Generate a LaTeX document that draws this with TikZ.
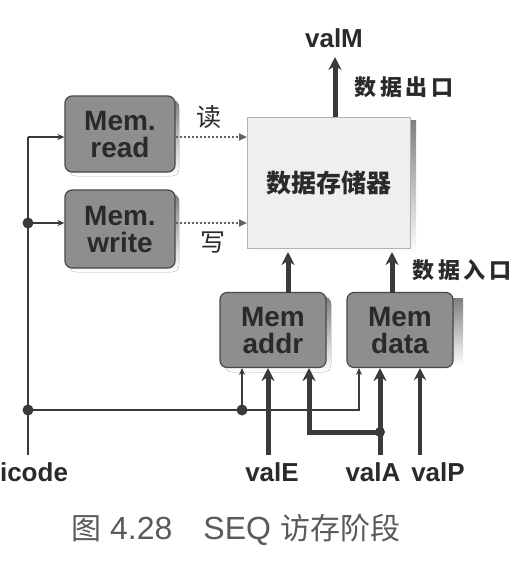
\documentclass[tikz,border=0pt]{standalone}
\usepackage{fontspec}
\setmainfont{Liberation Sans}
\newfontfamily\cjk{Noto Sans CJK SC}
\usetikzlibrary{arrows.meta}
\definecolor{boxfill}{HTML}{8E8E8E}
\definecolor{boxedge}{HTML}{4A4A4A}
\definecolor{shade}{HTML}{555555}
\definecolor{wire}{HTML}{3A3A3A}
\definecolor{txt}{HTML}{2A2A2A}
\definecolor{memfill}{HTML}{EFEFEF}
\definecolor{capc}{HTML}{5A5A5A}
\tikzset{
  ctrlbox/.style={draw=boxedge, line width=1.2pt, fill=boxfill, rounded corners=7pt,
    minimum width=110pt, minimum height=76pt, align=center, text=txt,
    font=\fontsize{28}{27}\selectfont\bfseries, inner sep=0pt},
  thin wire/.style={draw=wire, line width=1.8pt, -{Stealth[length=7pt,width=6pt]}},
  plain wire/.style={draw=wire, line width=1.8pt},
  thick wire/.style={draw=wire, line width=5pt, -{Stealth[length=13pt,width=13pt]}},
  mid wire/.style={draw=wire, line width=4pt, -{Stealth[length=12pt,width=12pt]}},
  dot wire/.style={draw=wire!80, line width=2pt, dotted, -{Triangle[length=8pt,width=7pt]}},
  lbl/.style={font=\fontsize{26}{27}\selectfont\bfseries, text=txt},
  clbl/.style={font=\cjk\fontsize{22}{24}\selectfont\bfseries, text=txt},
  rwlbl/.style={font=\cjk\fontsize{25}{26}\selectfont, text=txt},
  jdot/.style={circle, fill=wire, inner sep=0pt, minimum size=11pt},
}
\begin{document}
\begin{tikzpicture}[x=1pt,y=-1pt]
\useasboundingbox (0,0) rectangle (526,566);
% data memory
\fill[shade] (251,120) rectangle (416,253);
\node[draw=black!30, line width=1pt, fill=memfill, minimum width=163pt, minimum height=131pt, inner sep=0pt,
  font=\cjk\fontsize{25}{26}\selectfont\bfseries, text=txt] (mem) at (329,183) {数据存储器};
% control boxes with shadow
\fill[shade, rounded corners=7pt] (69,100) rectangle (179,176);
\node[ctrlbox] (rd) at (120,134) {Mem.\\read};
\fill[shade, rounded corners=7pt] (69,194) rectangle (179,272);
\node[ctrlbox, minimum height=78pt] (wr) at (120,229) {Mem.\\write};
\fill[shade, rounded corners=7pt] (225,297) rectangle (331,372);
\node[ctrlbox, minimum width=106pt, minimum height=75pt] (addr) at (273,330) {Mem\\addr};
\fill[shade] (452,298) rectangle (463,366);
\node[ctrlbox, minimum width=106pt, minimum height=75pt] (data) at (400,330) {Mem\\data};
% labels
\node[lbl] (valM) at (334,38) {valM};
\node[clbl] (out) at (404,87) {数\,据\,出\,口};
\node[clbl] (in) at (462,270) {数\,据\,入\,口};
\node[rwlbl] (rdl) at (209,117) {读};
\node[rwlbl] (wrl) at (213,243) {写};
\node[lbl] (icode) at (34,472) {icode};
\node[lbl] (valE) at (272,472) {valE};
\node[lbl] (valA) at (373,472) {valA};
\node[lbl] (valP) at (438,472) {valP};
\node[font=\fontsize{32}{32}\selectfont, text=capc, inner sep=0pt, anchor=west] (cap) at (71,530)
  {{\cjk\fontsize{30}{30}\selectfont 图}\hspace{9pt}4.28\hspace{31pt}SEQ\hspace{9pt}{\cjk\fontsize{30}{30}\selectfont 访存阶段}};
% coordinates
\coordinate (ic) at (28,455);
\coordinate (j1) at (28,223);
\coordinate (j2) at (28,410);
\coordinate (j3) at (242,410);
\coordinate (j4) at (380,432);
\coordinate (eE) at (268,455);
\coordinate (eA) at (380,455);
\coordinate (eP) at (420,455);
\coordinate (mtop) at (335,57);
% icode wiring
\draw[plain wire] (ic) -- (28,137);
\draw[thin wire] (28,137) -- (rd.west |- 0,137);
\draw[thin wire] (j1) -- (wr.west |- j1);
\draw[plain wire] (j2) -- (j3);
\draw[thin wire] (j3) -- (242,368);
\draw[thin wire] (j3) -- (359,410) -- (359,368);
% data wires
\draw[thick wire] (eE) -- (268,368);
\draw[thick wire] (eA) -- (380,368);
\draw[thick wire] (j4) -- (309,432) -- (309,368);
\draw[mid wire] (eP) -- (420,368);
\draw[thick wire] (288,293) -- (288,252);
\draw[thick wire] (392,293) -- (392,252);
\draw[thick wire] (335,117) -- (mtop);
% control dotted
\draw[dot wire] (rd.east |- 0,137) -- (mem.west |- 0,137);
\draw[dot wire] (wr.east |- j1) -- (mem.west |- j1);
% junction dots
\node[jdot] at (j1) {};
\node[jdot] at (j2) {};
\node[jdot] at (j3) {};
\node[jdot, minimum size=10pt] at (j4) {};
\end{tikzpicture}
\end{document}
